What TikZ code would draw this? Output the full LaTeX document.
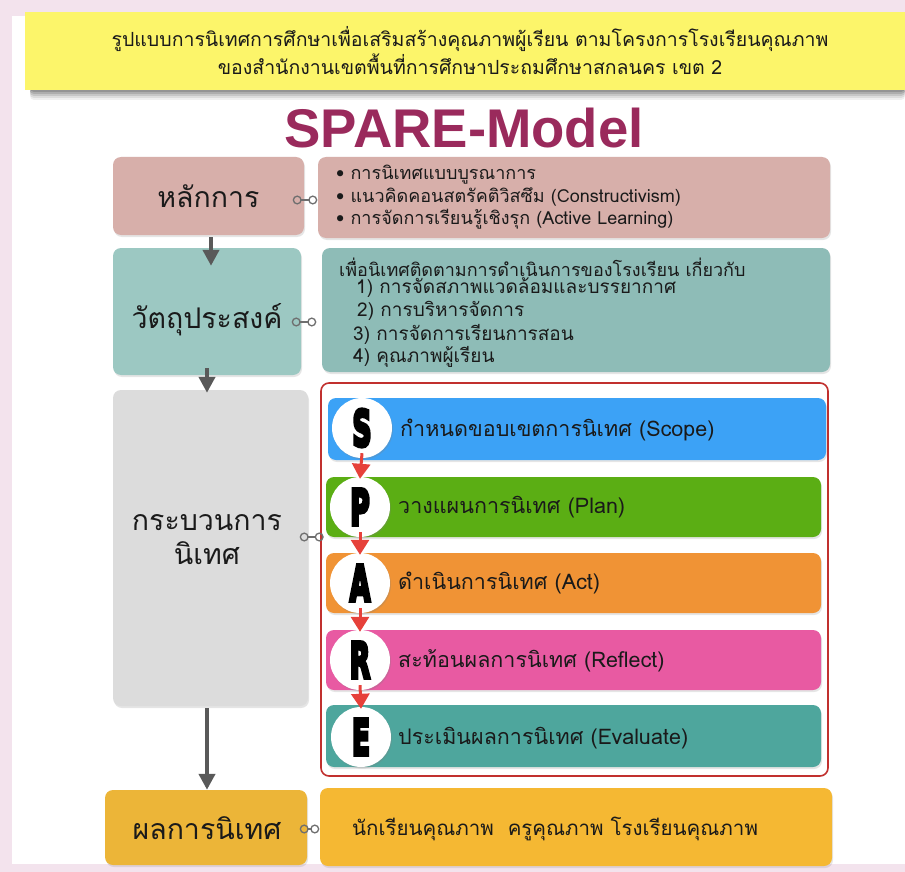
\documentclass[tikz,border=0pt]{standalone}
\usepackage{fontspec}
\usepackage{graphicx}
\setmainfont[Script=Thai]{Loma}
\newfontfamily\latinbold{Liberation Sans}
\newfontfamily\heavyfont[FakeBold=8]{DejaVu Sans Bold}
\usetikzlibrary{arrows.meta,shadows,calc}
\definecolor{bgpink}{HTML}{F3E3ED}
\definecolor{bannerY}{HTML}{FCF56A}
\definecolor{titleM}{HTML}{9A2A5C}
\definecolor{rowA}{HTML}{D7AFAA}
\definecolor{rowBl}{HTML}{9CC8C2}
\definecolor{rowBr}{HTML}{8EBCB7}
\definecolor{procG}{HTML}{DCDCDC}
\definecolor{barS}{HTML}{3CA2F6}
\definecolor{barP}{HTML}{5BAE14}
\definecolor{barA}{HTML}{F09335}
\definecolor{barR}{HTML}{E85AA2}
\definecolor{barE}{HTML}{4EA69D}
\definecolor{frameR}{HTML}{C1302E}
\definecolor{arrR}{HTML}{E6413A}
\definecolor{goldL}{HTML}{ECB538}
\definecolor{goldR}{HTML}{F5B833}
\definecolor{arrG}{HTML}{595959}
\definecolor{linkG}{HTML}{6E6E6E}
\definecolor{txt}{HTML}{1A1A1A}
\tikzset{
  box/.style={rounded corners=8pt, inner sep=0pt, drop shadow={opacity=0.2, shadow xshift=1pt, shadow yshift=-2pt}},
  bigtxt/.style={font=\fontsize{28.5}{32}\selectfont, text=txt, align=center},
  smalltxt/.style={font=\fontsize{18}{20}\selectfont, text=txt, anchor=west, inner sep=0pt},
  bartxt/.style={font=\fontsize{21.5}{24}\selectfont, text=txt, anchor=west, inner sep=0pt},
  letter/.style={circle, fill=white, minimum size=60pt, inner sep=0pt, drop shadow={opacity=0.25, shadow xshift=1pt, shadow yshift=-1.5pt}, font=\heavyfont\fontsize{38}{38}\selectfont},
  grayarr/.style={draw=arrG, line width=4pt, -{Triangle[length=16pt, width=16pt]}},
  redarr/.style={draw=arrR, line width=3pt, -{Triangle[length=15pt, width=18pt]}},
  link/.style={draw=linkG, line width=1.3pt, {Circle[open, length=9pt, width=9pt, line width=1.3pt]}-{Circle[open, length=9pt, width=9pt, line width=1.3pt]}},
}
\begin{document}
\begin{tikzpicture}[x=1pt, y=-1pt]
\useasboundingbox (0,0) rectangle (905,872);
\fill[bgpink] (0,0) rectangle (905,872);
\fill[white] (12,16) rectangle (905,864);
% banner shadow (soft)
\foreach \d/\o in {12/0.06,10/0.08,8/0.1,6/0.12,4/0.14}{
  \fill[black, opacity=\o, rounded corners=4pt] (30,88) rectangle (905,88+\d);
}
% banner
\node[fill=bannerY, minimum width=880pt, minimum height=78pt, inner sep=0pt] (banner) at (465,51) {};
\node[font=\fontsize{19.5}{28}\selectfont, text=txt, align=center] (bt) at (470,51) {รูปแบบการนิเทศการศึกษาเพื่อเสริมสร้างคุณภาพผู้เรียน ตามโครงการโรงเรียนคุณภาพ\\ของสำนักงานเขตพื้นที่การศึกษาประถมศึกษาสกลนคร เขต 2};
% title
\node[font=\latinbold\bfseries\fontsize{54.5}{54}\selectfont, text=titleM] (title) at (464,128) {SPARE-Model};
% row 1
\node[box, fill=rowA, minimum width=191pt, minimum height=78pt] (h1) at (208.5,196) {};
\node[bigtxt] (h1t) at (h1) {หลักการ};
\node[box, fill=rowA, minimum width=512pt, minimum height=81pt] (h2) at (574,197.5) {};
\node[smalltxt] (h2a) at (336,175) {• การนิเทศแบบบูรณาการ};
\node[smalltxt] (h2b) at (336,197) {• แนวคิดคอนสตรัคติวิสซึม (Constructivism)};
\node[smalltxt] (h2c) at (336,219) {• การจัดการเรียนรู้เชิงรุก (Active Learning)};
% row 2
\node[box, fill=rowBl, minimum width=188pt, minimum height=127pt] (v1) at (207,311.5) {};
\node[bigtxt] (v1t) at (207,320) {วัตถุประสงค์};
\node[box, fill=rowBr, minimum width=508pt, minimum height=124pt] (v2) at (576,310) {};
\node[smalltxt] (v2a) at (339,267) {เพื่อนิเทศติดตามการดำเนินการของโรงเรียน เกี่ยวกับ};
\node[smalltxt, font=\fontsize{19}{20}\selectfont] (v2b) at (356,288) {1) การจัดสภาพแวดล้อมและบรรยากาศ};
\node[smalltxt, font=\fontsize{19}{20}\selectfont] (v2c) at (357,311) {2) การบริหารจัดการ};
\node[smalltxt, font=\fontsize{19}{20}\selectfont] (v2d) at (353,334) {3) การจัดการเรียนการสอน};
\node[smalltxt, font=\fontsize{19}{20}\selectfont] (v2e) at (353,357) {4) คุณภาพผู้เรียน};
% row 3
\node[box, fill=procG, minimum width=195pt, minimum height=316pt] (p1) at (210.5,548) {};
\node[bigtxt, font=\fontsize{28.5}{34}\selectfont] (p1t) at (207,540) {กระบวนการ\\นิเทศ};
\node[draw=frameR, line width=1.6pt, fill=white, rounded corners=8pt, minimum width=507pt, minimum height=393pt, inner sep=0pt] (frame) at (574.5,579.5) {};
\node[box, fill=barS, minimum width=498pt, minimum height=62pt] (bS) at (577,429) {};
\node[box, fill=barP, minimum width=495pt, minimum height=60pt] (bP) at (573.5,507) {};
\node[box, fill=barA, minimum width=495pt, minimum height=60pt] (bA) at (573.5,583) {};
\node[box, fill=barR, minimum width=495pt, minimum height=60pt] (bR) at (573.5,660) {};
\node[box, fill=barE, minimum width=495pt, minimum height=62pt] (bE) at (573.5,736) {};
\node[bartxt] (tS) at (400,430) {กำหนดขอบเขตการนิเทศ (Scope)};
\node[bartxt] (tP) at (398,507) {วางแผนการนิเทศ (Plan)};
\node[bartxt] (tA) at (398,583) {ดำเนินการนิเทศ (Act)};
\node[bartxt] (tR) at (398,661) {สะท้อนผลการนิเทศ (Reflect)};
\node[bartxt] (tE) at (398,738) {ประเมินผลการนิเทศ (Evaluate)};
\node[letter] (cS) at (362,428) {\scalebox{0.7}[1.3]{S}};
\node[letter] (cP) at (360,507) {\scalebox{0.7}[1.3]{P}};
\node[letter] (cA) at (360,583) {\scalebox{0.7}[1.3]{A}};
\node[letter] (cR) at (360,660) {\scalebox{0.7}[1.3]{R}};
\node[letter] (cE) at (361,737) {\scalebox{0.7}[1.3]{E}};
\draw[redarr] ([yshift=5pt]cS.south) -- ([yshift=-2pt]cP.north);
\draw[redarr] ([yshift=5pt]cP.south) -- ([yshift=-2pt]cA.north);
\draw[redarr] ([yshift=5pt]cA.south) -- ([yshift=-2pt]cR.north);
\draw[redarr] ([yshift=5pt]cR.south) -- ([yshift=-2pt]cE.north);
% row 4
\node[box, fill=goldL, minimum width=202pt, minimum height=75pt] (r1) at (206,827.5) {};
\node[bigtxt] (r1t) at (207,828) {ผลการนิเทศ};
\node[box, fill=goldR, minimum width=512pt, minimum height=78pt] (r2) at (576,827) {};
\node[smalltxt, font=\fontsize{20.5}{24}\selectfont] (r2a) at (352,829) {นักเรียนคุณภาพ\ \ ครูคุณภาพ โรงเรียนคุณภาพ};
% gray arrows
\draw[grayarr] ([xshift=2.5pt, yshift=-2pt]h1.south) -- ([xshift=2.5pt, yshift=-18pt]h1.south |- v1.north);
\draw[grayarr] ([yshift=7pt]v1.south) -- ([yshift=-3pt]v1.south |- p1.north);
\draw[grayarr] ([xshift=-3.5pt, yshift=-2pt]p1.south) -- ([xshift=-3.5pt]p1.south |- r1.north);
% links
\draw[link] ($(h1.east)+(-11.5,4)$) -- ($(h2.west)+(-0.5,2.5)$);
\draw[link] ($(v1.east)+(-9.5,10.5)$) -- ($(v2.west)+(-5.5,12)$);
\draw[link] ($(p1.east)+(-8.5,-11)$) -- ($(frame.west)+(3.5,-42.5)$);
\draw[link] ($(r1.east)+(-7.5,1.5)$) -- ($(r2.west)+(-0.5,2)$);
\end{tikzpicture}
\end{document}
